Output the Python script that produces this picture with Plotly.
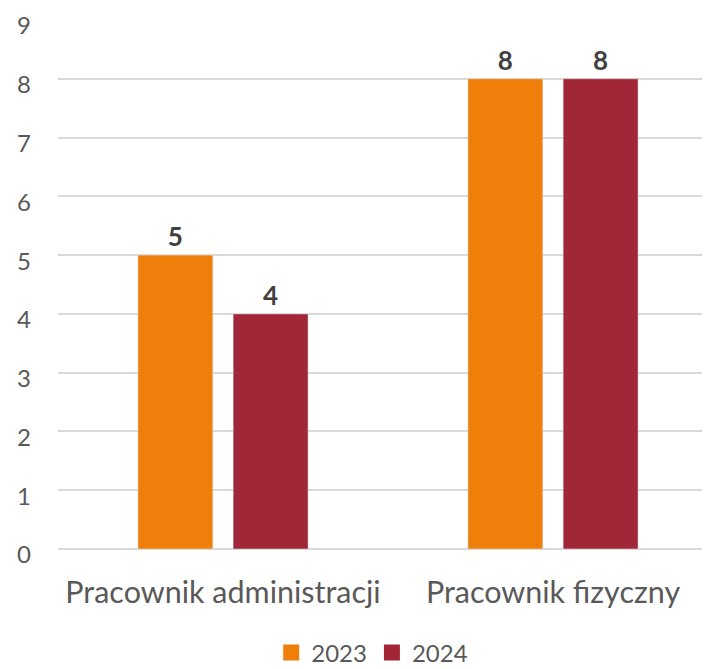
import plotly.graph_objects as go

categories = ["Pracownik administracji", "Pracownik fizyczny"]
values_2023 = [5, 8]
values_2024 = [4, 8]
y_ticks = [0, 1, 2, 3, 4, 5, 6, 7, 8, 9]

FONT = "Lato, 'Open Sans', sans-serif"
TEXT = "#595959"
ORANGE = "#EF7F0A"
RED = "#A12637"

fig = go.Figure()
for name, vals, color in [("2023", values_2023, ORANGE), ("2024", values_2024, RED)]:
    fig.add_trace(go.Bar(
        x=categories, y=vals, name=name, showlegend=False,
        marker=dict(color=color),
        text=vals, textposition="outside", cliponaxis=False,
        textfont=dict(family=FONT, size=26, color="#404040", weight="bold"),
    ))
    # legend-only entry so the swatch can be a bigger square
    fig.add_trace(go.Scatter(
        x=[None], y=[None], name=name, mode="markers",
        marker=dict(symbol="square", size=20, color=color),
    ))

# page body has an 8px margin, so margins are shifted to compensate
fig.update_layout(
    width=710, height=669,
    margin=dict(l=50, r=0, t=12, b=128),
    plot_bgcolor="white", paper_bgcolor="white",
    font=dict(family=FONT, color=TEXT),
    bargap=0.423, bargroupgap=0.213,
    showlegend=True,
    legend=dict(orientation="h", xref="container", yref="container",
                x=0.513, xanchor="center", y=0.036, yanchor="middle",
                font=dict(size=24, color=TEXT), itemwidth=30),
)
fig.update_xaxes(
    showgrid=False, showline=False, ticks="", automargin=False,
    tickfont=dict(size=30.5, color=TEXT), ticklabelstandoff=22,
)
fig.update_yaxes(
    range=[0, 9], tickvals=y_ticks, showgrid=True, gridcolor="#D9D9D9", gridwidth=2,
    zeroline=True, zerolinecolor="#D9D9D9", zerolinewidth=2, automargin=False,
    ticklabeloverflow="allow", ticklabelshift=6,
    showline=False, ticks="", tickfont=dict(size=24, color=TEXT), ticklabelstandoff=26,
)

fig.write_html("out.html")
